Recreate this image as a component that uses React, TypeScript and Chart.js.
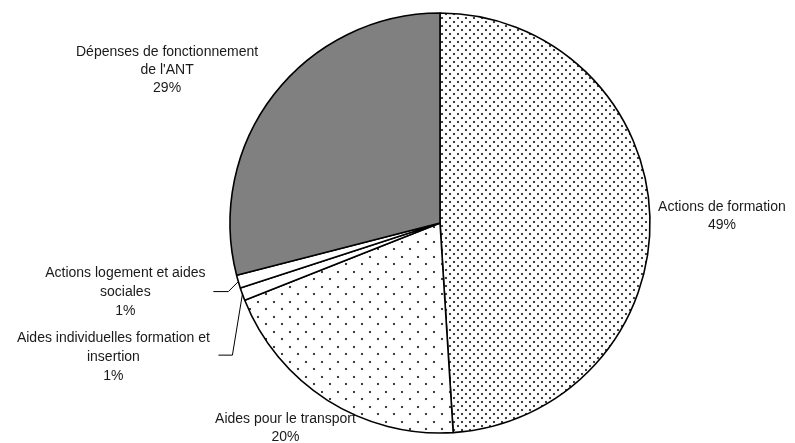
import { useEffect, useRef } from "react";
import { Chart, registerables } from "chart.js";

Chart.register(...registerables);

// Budget breakdown (share of total, %)
const categories = [
  "Actions de formation",
  "Aides pour le transport",
  "Aides individuelles formation et insertion",
  "Actions logement et aides sociales",
  "Dépenses de fonctionnement de l'ANT",
];
const shares = [49, 20, 1, 1, 29];
const labelLines = [
  ["Actions de formation"],
  ["Aides pour le transport"],
  ["Aides individuelles formation et", "insertion"],
  ["Actions logement et aides", "sociales"],
  ["Dépenses de fonctionnement", "de l'ANT"],
];

// Label placement relative to each slice's outer mid point
type LabelPlace = { dx: number; dy: number; lineH: number; leader?: { ex: number; ey: number; len: number } };
const labelPlaces: LabelPlace[] = [
  { dx: 72, dy: 0, lineH: 18 },
  { dx: -42, dy: 28, lineH: 18 },
  { dx: -129, dy: 63, lineH: 19, leader: { ex: -10, ey: 61, len: 14 } },
  { dx: -113, dy: 11, lineH: 19, leader: { ex: -10, ey: 10, len: 15 } },
  { dx: -107, dy: -24, lineH: 18 },
];

const FONT = "14px 'Liberation Sans', Arial, sans-serif";

function dotPattern(tileW: number, tileH: number, dots: [number, number][], color: string, halo: string) {
  const c = document.createElement("canvas");
  c.width = tileW;
  c.height = tileH;
  const g = c.getContext("2d")!;
  g.fillStyle = "#ffffff";
  g.fillRect(0, 0, tileW, tileH);
  for (const [x, y] of dots) {
    g.fillStyle = halo;
    g.fillRect(x - 0.5, y - 0.5, 3, 3);
    g.fillStyle = color;
    g.fillRect(x, y, 2, 2);
  }
  return g.createPattern(c, "repeat")!;
}

const outsideLabels = {
  id: "outsideLabels",
  afterDraw(chart: any) {
    const ctx = chart.ctx as CanvasRenderingContext2D;
    const meta = chart.getDatasetMeta(0);
    ctx.save();
    ctx.font = FONT;
    ctx.fillStyle = "#1a1a1a";
    ctx.textAlign = "center";
    ctx.textBaseline = "middle";
    meta.data.forEach((arc: any, i: number) => {
      const { x, y, startAngle, endAngle, outerRadius } = arc.getProps(
        ["x", "y", "startAngle", "endAngle", "outerRadius"],
        true
      );
      const mid = (startAngle + endAngle) / 2;
      const mx = x + Math.cos(mid) * outerRadius;
      const my = y + Math.sin(mid) * outerRadius;
      const place = labelPlaces[i];
      const lines = [...labelLines[i], `${shares[i]}%`];
      const cx = mx + place.dx;
      const cy = my + place.dy;
      const top = cy - ((lines.length - 1) * place.lineH) / 2;
      lines.forEach((t, k) => ctx.fillText(t, cx, top + k * place.lineH));
      if (place.leader) {
        const ex = mx + place.leader.ex;
        const ey = my + place.leader.ey;
        ctx.strokeStyle = "#000";
        ctx.lineWidth = 1;
        ctx.beginPath();
        ctx.moveTo(mx, my);
        ctx.lineTo(ex, ey);
        ctx.lineTo(ex - place.leader.len, ey);
        ctx.stroke();
      }
    });
    ctx.restore();
  },
};

export default function App() {
  const ref = useRef<HTMLCanvasElement>(null);

  useEffect(() => {
    document.body.style.margin = "0";
    const dense = dotPattern(8, 8, [[1, 1], [5, 5]], "#404040", "rgba(0,0,0,0.06)");
    const sparse = dotPattern(16, 15, [[1, 1], [9, 8]], "#404040", "rgba(0,0,0,0.06)");
    const chart = new Chart(ref.current!, {
      type: "pie",
      data: {
        labels: categories,
        datasets: [
          {
            data: shares,
            backgroundColor: [dense, sparse, "#ffffff", "#ffffff", "#808080"],
            borderColor: "#000000",
            borderWidth: 1.6,
          },
        ],
      },
      options: {
        responsive: false,
        animation: false,
        radius: 210,
        layout: { padding: { left: 95, right: 10, top: 8, bottom: 5 } },
        plugins: { legend: { display: false }, tooltip: { enabled: false } },
      },
      plugins: [outsideLabels],
    });
    return () => chart.destroy();
  }, []);

  return <canvas ref={ref} width={795} height={443} style={{ display: "block" }} />;
}
